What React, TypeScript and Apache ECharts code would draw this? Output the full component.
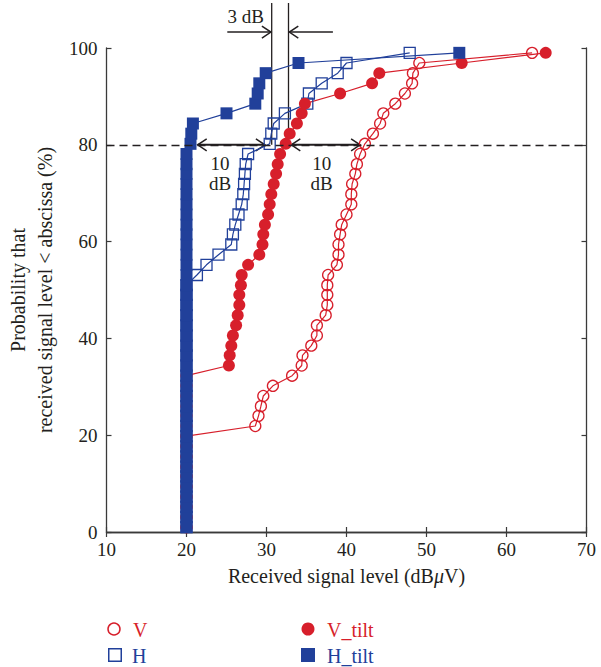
import React, { useEffect, useRef } from "react";
import * as echarts from "echarts";

// Cumulative probability levels (%) shared by all four measured series
const PROB = [
  1.0, 3.1, 5.2, 7.3, 9.4, 11.5, 13.5, 15.6, 17.7, 19.8,
  21.9, 24.0, 26.0, 28.1, 30.2, 32.3, 34.4, 36.5, 38.5, 40.6,
  42.7, 44.8, 46.9, 49.0, 51.0, 53.1, 55.2, 57.3, 59.4, 61.5,
  63.5, 65.6, 67.7, 69.8, 71.9, 74.0, 76.0, 78.1, 80.2, 82.3,
  84.4, 86.5, 88.5, 90.6, 92.7, 94.8, 96.9, 99.0,
];

// Received signal level (dBuV) for each probability level
const V_X = [
  20, 20, 20, 20, 20, 20, 20, 20, 20, 20,
  28.6, 29.0, 29.3, 29.6, 30.8, 33.2, 34.4, 34.5, 35.6, 36.3,
  36.3, 37.4, 37.6, 37.6, 37.6, 37.7, 38.8, 39.0, 39.0, 39.2,
  39.4, 40.0, 40.6, 40.6, 40.7, 41.1, 41.3, 41.7, 42.3, 43.3,
  44.2, 44.6, 46.1, 47.3, 48.2, 48.3, 49.1, 63.2,
];
const H_X = [
  20, 20, 20, 20, 20, 20, 20, 20, 20, 20,
  20, 20, 20, 20, 20, 20, 20, 20, 20, 20,
  20, 20, 20, 20, 20, 21.3, 22.5, 24.0, 25.6, 25.8,
  26.1, 26.5, 26.9, 27.1, 27.2, 27.3, 27.4, 27.7, 30.4, 30.6,
  30.9, 32.3, 35.1, 35.3, 36.9, 38.9, 40.0, 47.9,
];
const V_TILT_X = [
  20, 20, 20, 20, 20, 20, 20, 20, 20, 20,
  20, 20, 20, 20, 20, 20, 25.3, 25.4, 25.6, 25.8,
  26.2, 26.4, 26.6, 26.6, 26.8, 26.9, 27.7, 29.1, 29.5, 29.6,
  29.8, 30.2, 30.4, 30.6, 30.9, 31.2, 31.4, 31.7, 32.4, 32.9,
  33.8, 34.4, 34.8, 39.2, 43.2, 44.1, 54.4, 64.9,
];
const H_TILT_X = [
  20, 20, 20, 20, 20, 20, 20, 20, 20, 20,
  20, 20, 20, 20, 20, 20, 20, 20, 20, 20,
  20, 20, 20, 20, 20, 20, 20, 20, 20, 20,
  20, 20, 20, 20, 20, 20, 20, 20, 20.5, 20.6,
  20.8, 25.0, 28.6, 28.9, 29.1, 29.9, 34.0, 54.1,
];

const SERIES_NAMES = ["V", "H", "V_tilt", "H_tilt"];

// Annotation anchors (data units)
const CUT_LEVEL = 80;
const GAP_LINES_X = [30.65, 32.75];
const GAP_TOP_Y = 109.3;
const GAP_ARROW_Y = 103.3;
const GAP_ARROWS = [
  [25.1, 30.55],
  [38.3, 32.85],
];
const GAP_LABEL = [27.4, 106.6];
const TEN_DB_ARROWS = [
  [21.4, 29.8],
  [33.1, 41.7],
];
const TEN_DB_LABEL_X = [24.2, 36.9];
const TEN_DB_LABEL_Y = [76.2, 72.1];

const RED = "#d71f2b";
const BLUE = "#21409a";
const INK = "#231f20";
const AXIS = "#3a3a3a";
const FONT = "'Liberation Serif', 'DejaVu Serif', 'Times New Roman', serif";

export default function App() {
  const ref = useRef<HTMLDivElement>(null);

  useEffect(() => {
    document.body.style.margin = "0";
    const chart = echarts.init(ref.current!, null, { renderer: "svg" });
    const pairs = (xs: number[]) => xs.map((x, i) => [x, PROB[i]]);

    const axisCommon = {
      type: "value" as const,
      axisLine: { show: true, lineStyle: { color: AXIS, width: 1.3 } },
      axisTick: { show: true, inside: true, length: 5, lineStyle: { color: AXIS, width: 1.2 } },
      splitLine: { show: false },
    };

    chart.setOption({
      animation: false,
      grid: { left: 106.5, right: 14.5, top: 48, bottom: 135, containLabel: false, outerBoundsMode: "none" },
      xAxis: [
        {
          ...axisCommon,
          min: 10,
          max: 70,
          interval: 10,
          position: "bottom",
          axisLabel: { color: INK, fontSize: 19, fontFamily: FONT, margin: 8 },
          name: "Received signal level (dB{i|μ}V)",
          nameLocation: "middle",
          nameGap: 34,
          nameTextStyle: {
            color: INK,
            fontSize: 20,
            fontFamily: FONT,
            rich: { i: { fontStyle: "italic", fontSize: 20, fontFamily: FONT, color: INK } },
          },
        },
        {
          ...axisCommon,
          min: 10,
          max: 70,
          interval: 10,
          position: "top",
          axisLabel: { show: false },
        },
      ],
      yAxis: [
        {
          ...axisCommon,
          min: 0,
          max: 100,
          interval: 20,
          position: "left",
          axisLabel: { color: INK, fontSize: 19, fontFamily: FONT, margin: 9 },
          name: "Probability that\nreceived signal level < abscissa (%)",
          nameLocation: "middle",
          nameRotate: 90,
          nameGap: 47,
          nameTextStyle: { color: INK, fontSize: 20, fontFamily: FONT, lineHeight: 27 },
        },
        {
          ...axisCommon,
          min: 0,
          max: 100,
          interval: 20,
          position: "right",
          axisLabel: { show: false },
        },
      ],
      series: [
        {
          name: SERIES_NAMES[0],
          type: "line",
          data: pairs(V_X),
          symbol: "circle",
          symbolSize: 11,
          itemStyle: { color: "rgba(255,255,255,0)", borderColor: RED, borderWidth: 1.3 },
          lineStyle: { color: RED, width: 1.2 },
          markLine: {
            silent: true,
            symbol: ["none", "none"],
            label: { show: false },
            lineStyle: { color: INK, width: 1.4, type: [8, 5] },
            data: [{ yAxis: CUT_LEVEL }],
          },
        },
        {
          name: SERIES_NAMES[1],
          type: "line",
          data: pairs(H_X),
          symbol: "rect",
          symbolSize: 11,
          itemStyle: { color: "rgba(255,255,255,0)", borderColor: BLUE, borderWidth: 1.3 },
          lineStyle: { color: BLUE, width: 1.2 },
        },
        {
          name: SERIES_NAMES[2],
          type: "line",
          data: pairs(V_TILT_X),
          symbol: "circle",
          symbolSize: 12,
          itemStyle: { color: RED },
          lineStyle: { color: RED, width: 1.2 },
        },
        {
          name: SERIES_NAMES[3],
          type: "line",
          data: pairs(H_TILT_X),
          symbol: "rect",
          symbolSize: 12,
          itemStyle: { color: BLUE },
          lineStyle: { color: BLUE, width: 1.2 },
        },
      ],
    });

    const p = (x: number, y: number) => chart.convertToPixel({ seriesIndex: 0 }, [x, y]) as number[];
    const stroke = { stroke: INK, lineWidth: 1.5, fill: "none" };
    const head = (tip: number[], dir: number) => ({
      type: "polyline",
      silent: true,
      shape: { points: [[tip[0] - dir * 9, tip[1] - 6], tip, [tip[0] - dir * 9, tip[1] + 6]] },
      style: { ...stroke },
    });
    const line = (a: number[], b: number[], w = 1.5) => ({
      type: "line",
      silent: true,
      shape: { x1: a[0], y1: a[1], x2: b[0], y2: b[1] },
      style: { stroke: INK, lineWidth: w },
    });
    const text = (pt: number[], t: string, fill = INK, align = "center", size = 19) => ({
      type: "text",
      silent: true,
      x: pt[0],
      y: pt[1],
      style: { text: t, fill, fontSize: size, fontFamily: FONT, align, verticalAlign: "middle" },
    });

    const g: any[] = [];
    GAP_LINES_X.forEach((x) => g.push(line(p(x, GAP_TOP_Y), p(x, CUT_LEVEL), 1.3)));
    GAP_ARROWS.forEach(([tail, tip]) => {
      const a = p(tail, GAP_ARROW_Y);
      const b = p(tip, GAP_ARROW_Y);
      g.push(line(a, b, 1.6));
      g.push(head(b, tip > tail ? 1 : -1));
    });
    g.push(text(p(GAP_LABEL[0], GAP_LABEL[1]), "3 dB"));
    TEN_DB_ARROWS.forEach(([x1, x2], i) => {
      const a = p(x1, CUT_LEVEL);
      const b = p(x2, CUT_LEVEL);
      g.push(line(a, b, 2));
      g.push(head(a, -1));
      g.push(head(b, 1));
      g.push(text(p(TEN_DB_LABEL_X[i], TEN_DB_LABEL_Y[0]), "10"));
      g.push(text(p(TEN_DB_LABEL_X[i], TEN_DB_LABEL_Y[1]), "dB"));
    });

    // Legend (two columns, below the axis title)
    const legendItems = [
      { name: SERIES_NAMES[0], shape: "circle", filled: false, color: RED, cx: 114, cy: 629, tx: 133 },
      { name: SERIES_NAMES[1], shape: "rect", filled: false, color: BLUE, cx: 115, cy: 655, tx: 132 },
      { name: SERIES_NAMES[2], shape: "circle", filled: true, color: RED, cx: 308, cy: 629, tx: 327 },
      { name: SERIES_NAMES[3], shape: "rect", filled: true, color: BLUE, cx: 308, cy: 655, tx: 327 },
    ];
    legendItems.forEach((it) => {
      const st = it.filled
        ? { fill: it.color, stroke: "none" }
        : { fill: "none", stroke: it.color, lineWidth: 1.5 };
      if (it.shape === "circle") {
        g.push({ type: "circle", silent: true, shape: { cx: it.cx, cy: it.cy, r: it.filled ? 6.5 : 6 }, style: st });
      } else {
        const s = it.filled ? 14 : 12.5;
        g.push({ type: "rect", silent: true, shape: { x: it.cx - s / 2, y: it.cy - s / 2, width: s, height: s }, style: st });
      }
      g.push(text([it.tx, it.cy + 1], it.name, it.color, "left", 20));
    });

    chart.setOption({ graphic: g });

    return () => chart.dispose();
  }, []);

  return <div ref={ref} style={{ width: 601, height: 667 }} />;
}
